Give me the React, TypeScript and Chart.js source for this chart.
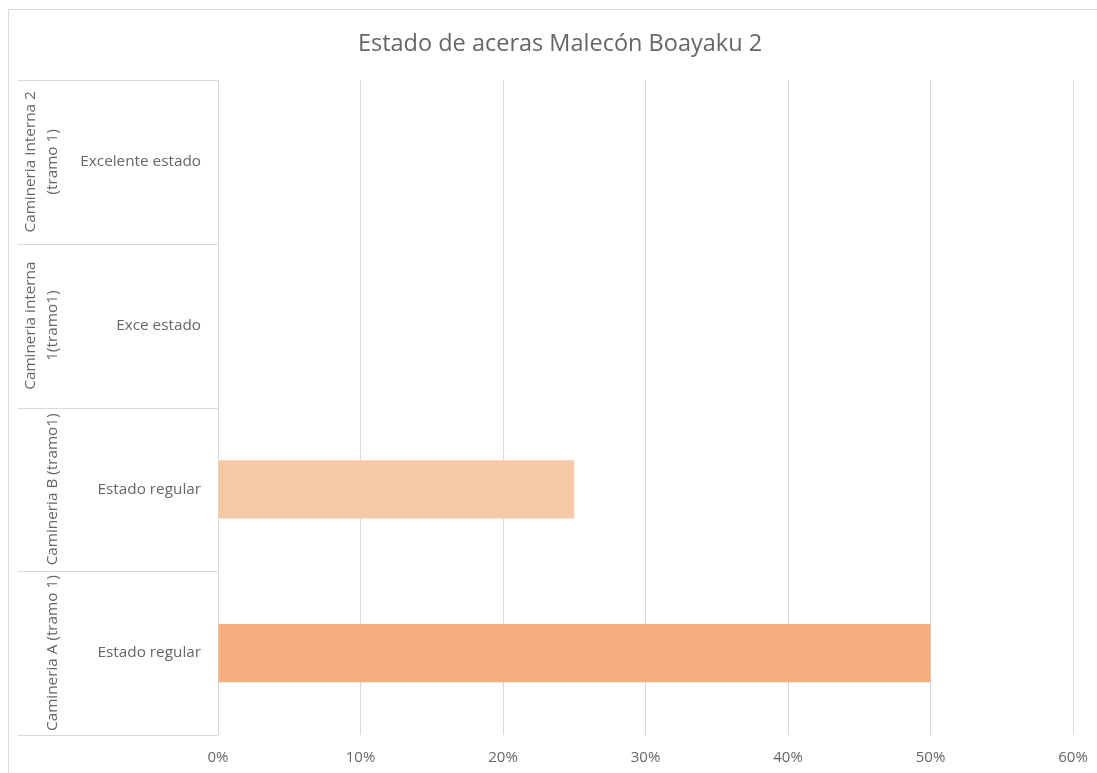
import React, { useEffect, useRef } from "react";
import { Chart, registerables } from "chart.js";

Chart.register(...registerables);

const titleText = "Estado de aceras Malecón Boayaku 2";
const outerLabels: string[][] = [
  ["Camineria Interna 2", "(tramo 1)"],
  ["Camineria interna", "1(tramo1)"],
  ["Camineria B (tramo1)"],
  ["Camineria A (tramo 1)"],
];
const innerLabels = ["Excelente estado", "Exce estado", "Estado regular", "Estado regular"];
const values = [0, 0, 0.25, 0.5];
const barColors = ["#F4AE80", "#F4AE80", "#F7C8A6", "#F4AE80"];
const xTickValues = [0, 0.1, 0.2, 0.3, 0.4, 0.5, 0.6];

const FONT = "'Open Sans', sans-serif";
const TEXT = "#666666";
const GRID = "#d9d9d9";

export default function App() {
  const ref = useRef<HTMLCanvasElement | null>(null);

  useEffect(() => {
    if (!ref.current) return;
    const decor = {
      id: "decor",
      beforeDraw(chart: any) {
        const ctx = chart.ctx;
        ctx.save();
        ctx.fillStyle = "#ffffff";
        ctx.fillRect(0, 0, chart.width, chart.height);
        ctx.strokeStyle = GRID;
        ctx.lineWidth = 1;
        ctx.strokeRect(8.5, 9.5, 1200, 1000);
        ctx.restore();
      },
      afterDraw(chart: any) {
        const ctx = chart.ctx;
        const area = chart.chartArea;
        const y = chart.scales.y;
        const n = innerLabels.length;
        const band = (area.bottom - area.top) / n;
        ctx.save();
        ctx.strokeStyle = GRID;
        ctx.lineWidth = 1;
        for (let i = 0; i <= n; i++) {
          const yy = Math.round(area.top + i * band) + 0.5;
          ctx.beginPath();
          ctx.moveTo(18, yy);
          ctx.lineTo(area.left, yy);
          ctx.stroke();
        }
        ctx.fillStyle = TEXT;
        ctx.font = `15.3px ${FONT}`;
        ctx.textAlign = "right";
        ctx.textBaseline = "middle";
        for (let i = 0; i < n; i++) {
          const cy = y.getPixelForValue(i);
          ctx.fillText(innerLabels[i], 201, cy);
        }
        ctx.textAlign = "center";
        for (let i = 0; i < n; i++) {
          const cy = y.getPixelForValue(i);
          const lines = outerLabels[i];
          const lh = 22;
          for (let j = 0; j < lines.length; j++) {
            const x = 53 - (lines.length - 1 - j) * lh;
            ctx.save();
            ctx.translate(x, cy);
            ctx.rotate(-Math.PI / 2);
            ctx.fillText(lines[j], 0, 0);
            ctx.restore();
          }
        }
        ctx.font = `23.5px ${FONT}`;
        ctx.textAlign = "center";
        ctx.fillText(titleText, 560, 44);
        ctx.restore();
      },
    };

    const chart = new Chart(ref.current, {
      type: "bar",
      data: {
        labels: innerLabels,
        datasets: [
          {
            data: values,
            backgroundColor: barColors,
            borderWidth: 0,
            barPercentage: 0.355,
            categoryPercentage: 1,
          },
        ],
      },
      options: {
        indexAxis: "y",
        animation: false,
        responsive: false,
        maintainAspectRatio: false,
        layout: { padding: { left: 218, right: 24, top: 80, bottom: 0 } },
        plugins: { legend: { display: false }, title: { display: false }, tooltip: { enabled: false } },
        scales: {
          y: { display: false },
          x: {
            min: 0,
            max: 0.6,
            afterFit: (s: any) => {
              s.height = 38;
              s.paddingLeft = 0;
              s.paddingRight = 0;
            },
            afterBuildTicks: (s: any) => {
              s.ticks = xTickValues.map((v) => ({ value: v }));
            },
            border: { display: false },
            grid: { color: GRID, drawTicks: false, lineWidth: 1 },
            ticks: {
              padding: 14,
              color: TEXT,
              font: { family: FONT, size: 15 },
              callback: (v: any) => `${Math.round(Number(v) * 100)}%`,
            },
          },
        },
      },
      plugins: [decor],
    });
    return () => chart.destroy();
  }, []);

  return (
    <div style={{ position: "fixed", left: 0, top: 0, width: 1097, height: 773 }}>
      <canvas ref={ref} width={1097} height={773} style={{ width: 1097, height: 773 }} />
    </div>
  );
}
